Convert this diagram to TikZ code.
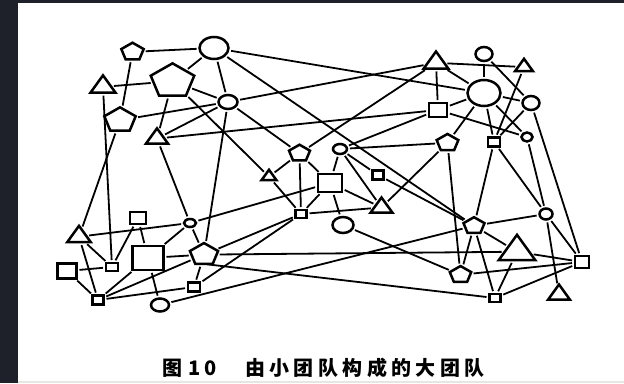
\documentclass[tikz,border=0pt]{standalone}
\usepackage{fontspec}
\usetikzlibrary{shapes.geometric}
\newfontfamily\cjk[LetterSpace=22]{Noto Sans CJK SC}
\definecolor{darkbg}{HTML}{1E2129}
\definecolor{lightstrip}{HTML}{E6E8E0}
\tikzset{
  shp/.style={draw=black, line width=2.5pt, inner sep=0pt, outer sep=0pt},
  circ/.style={shp, ellipse},
  sq/.style={shp, rectangle},
  tri/.style={shp, regular polygon, regular polygon sides=3, xscale=1.25},
  pent/.style={shp, regular polygon, regular polygon sides=5, xscale=1.28},
  conn/.style={line width=1.8pt, shorten <=3pt, shorten >=3pt},
  captext/.style={anchor=base west, inner sep=0pt, font=\cjk\bfseries\fontsize{20pt}{20pt}\selectfont}
}
\newcommand\circN[5]{\node[circ, minimum width=#4pt, minimum height=#5pt] (#1) at (#2,#3) {};}
\newcommand\sqN[5]{\node[sq, minimum width=#4pt, minimum height=#5pt] (#1) at (#2,#3) {};}
\newcommand\triN[4]{\pgfmathsetmacro\rr{(#4-3)/1.5}\pgfmathsetmacro\yy{#3+0.25*\rr}\node[tri, minimum size=2*\rr*1pt] (#1) at (#2,\yy) {};}
\newcommand\pentN[4]{\pgfmathsetmacro\rr{(#4-2.4)/1.809}\pgfmathsetmacro\yy{#3+0.0955*\rr}\node[pent, minimum size=2*\rr*1pt] (#1) at (#2,\yy) {};}
\begin{document}
\begin{tikzpicture}[x=1pt,y=-1pt]
\useasboundingbox (0,0) rectangle (624,383);
\fill[darkbg] (0,0) rectangle (624,383);
\fill[white] (18,3) rectangle (624,383);
\fill[lightstrip] (18,380.5) rectangle (624,383);
% circles
\circN{C1}{214}{48}{29}{22}
\circN{C2}{228}{102}{19}{14}
\circN{C3}{484}{54}{17}{14}
\circN{C4}{484}{93}{33}{26}
\circN{C5}{531}{103}{17}{14}
\circN{C6}{527}{137}{11}{9}
\circN{C7}{340}{149}{14}{10}
\circN{C8}{343}{225}{21}{16}
\circN{C9}{190}{223}{12}{8}
\circN{C10}{160}{305}{18}{13}
\circN{C11}{546}{214}{13}{11}
% squares
\sqN{S1}{438}{110}{18}{14}
\sqN{S2}{494}{142}{12}{9}
\sqN{S3}{330}{183}{24}{18}
\sqN{S4}{378}{175}{11}{9}
\sqN{S5}{301}{214}{11}{8}
\sqN{S6}{138}{218}{16}{12}
\sqN{S7}{112}{267}{12}{8}
\sqN{S8}{148}{258}{31}{24}
\sqN{S9}{67}{271}{19}{15}
\sqN{S10}{98}{300}{11}{9}
\sqN{S11}{194}{287}{12}{9}
\sqN{S12}{582}{262}{14}{12}
\sqN{S13}{495}{298}{11}{8}
% triangles
\triN{T1}{103}{84}{20.3}
\triN{T2}{157}{136}{18.3}
\triN{T3}{269}{175}{13.4}
\triN{T4}{436}{60}{20}
\triN{T5}{524}{65}{15.4}
\triN{T6}{381.5}{205}{18}
\triN{T7}{79}{234}{19.3}
\triN{T8}{517}{247.5}{28.4}
\triN{T9}{559}{292}{18}
% pentagons
\pentN{P1}{132.5}{51}{19}
\pentN{P2}{172.5}{79.5}{34.7}
\pentN{P3}{120}{119}{25.7}
\pentN{P4}{299.5}{152.5}{18}
\pentN{P5}{447.5}{142}{18.5}
\pentN{P6}{204}{253.5}{23.3}
\pentN{P7}{474}{225}{18}
\pentN{P8}{460.5}{274}{18.3}
% connectors
\foreach \a/\b in {P1/C1,P1/P3,T1/P2,T1/S7,C1/P2,C1/C2,C1/C4,C1/P7,P2/C2,P2/T2,P2/T3,
  C2/P3,C2/T2,C2/T4,C2/P4,C2/P6,P3/T7,T2/S1,T2/C9,P4/T3,P4/T4,P4/S3,P4/S5,T3/S5,
  C7/S1,C7/P5,C7/S3,C7/S4,C7/T6,S3/C9,S3/T6,S3/S5,S3/C8,S4/P7,T6/S5,T6/P5,C8/P8,
  T4/C4,T4/T5,T4/S1,C3/C4,C3/C5,T5/S2,C4/C5,C4/S1,C4/P5,C4/S2,C4/C6,S1/C6,C5/S2,
  C5/S12,S2/P7,S2/C11,C6/C11,P5/P8,C11/P7,C11/S12,C11/T9,P7/T8,P7/P8,P7/S13,P7/C10,
  T8/S13,T8/S12,T8/P6,P8/S12,S13/S12,T7/C9,T7/S7,T7/S10,S6/S7,S6/S8,S9/S7,S9/S10,
  S8/S10,S8/C9,S8/P6,S8/C10,C9/P6,S10/S11,S10/P6,P6/S11,P6/S5,S11/S5}
  {\draw[conn] (\a) -- (\b);}
\draw[conn] (P6.side 3) -- (S13);
% caption
\node[captext] (figlabel) at (162,375) {图};
\node[captext] (fignum) at (188,375) {10};
\node[captext] (figtitle) at (245,375) {由小团队构成的大团队};
\end{tikzpicture}
\end{document}
